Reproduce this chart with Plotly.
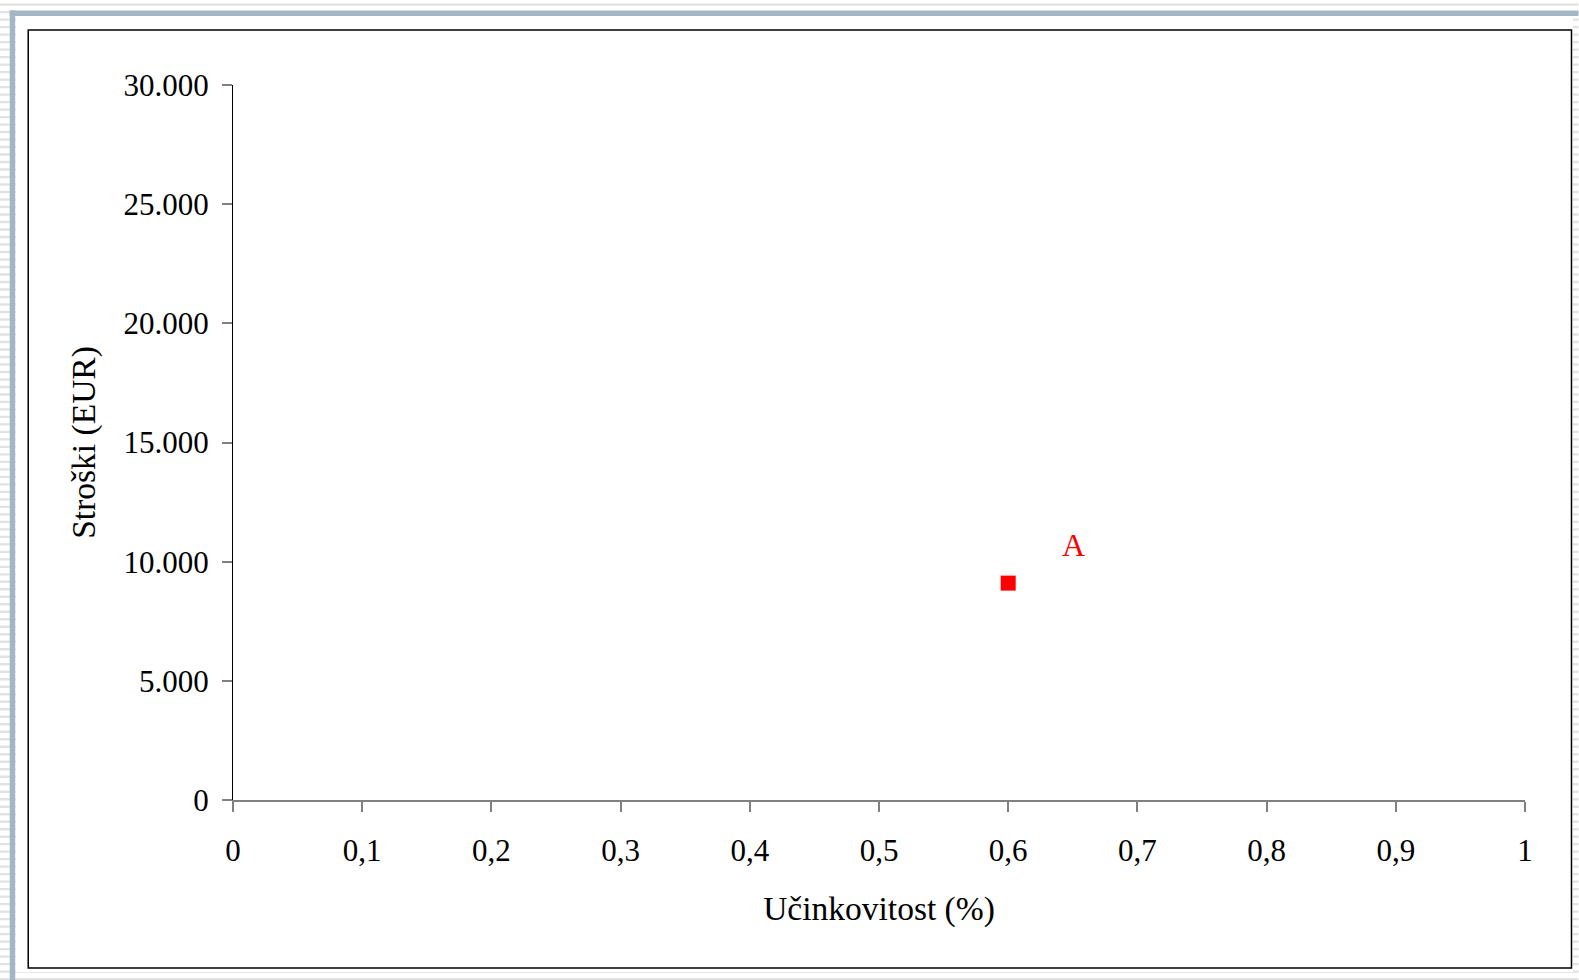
import plotly.graph_objects as go

# Data
options = ["A"]
effectiveness = [0.6]
costs = [9100]
label_x = [0.6505]
label_y = [10580]

x_ticks = [0, 0.1, 0.2, 0.3, 0.4, 0.5, 0.6, 0.7, 0.8, 0.9, 1]
x_ticktext = ["0", "0,1", "0,2", "0,3", "0,4", "0,5", "0,6", "0,7", "0,8", "0,9", "1"]
y_ticks = [0, 5000, 10000, 15000, 20000, 25000, 30000]
y_ticktext = ["0", "5.000", "10.000", "15.000", "20.000", "25.000", "30.000"]

W, H = 1579, 980
L, R, T, B = 233.3, 53.5, 84.6, 180.0
pw, ph = W - L - R, H - T - B

def px(x):
    return (x - L) / pw

def py(y):
    return 1 - (y - T) / ph

FONT = "Liberation Serif, Times New Roman, serif"

fig = go.Figure()
fig.add_trace(go.Scatter(
    x=effectiveness, y=costs, mode="markers",
    marker=dict(symbol="square", size=15, color="#ff0000"),
    showlegend=False, hoverinfo="x+y",
))
fig.add_trace(go.Scatter(
    x=label_x, y=label_y, mode="text", text=options,
    textfont=dict(family=FONT, size=32, color="#ff0000"),
    showlegend=False, hoverinfo="skip",
))

shapes = []
# striped background
y = 4.2
while y < H:
    shapes.append(dict(type="rect", xref="paper", yref="paper", layer="below",
                       x0=px(0), x1=px(W), y0=py(y - 1.2), y1=py(y + 1.2),
                       fillcolor="#e2e2e2", line=dict(width=0)))
    y += 7.5
# blue-grey frame bars
shapes.append(dict(type="rect", xref="paper", yref="paper", layer="below",
                   x0=px(10), x1=px(15.5), y0=py(10), y1=py(H),
                   fillcolor="#a4b6c6", line=dict(width=0)))
shapes.append(dict(type="rect", xref="paper", yref="paper", layer="below",
                   x0=px(10), x1=px(W), y0=py(10), y1=py(15.5),
                   fillcolor="#a4b6c6", line=dict(width=0)))
# white panel
shapes.append(dict(type="rect", xref="paper", yref="paper", layer="below",
                   x0=px(16), x1=px(1573.5), y0=py(16), y1=py(972),
                   fillcolor="#ffffff", line=dict(width=0)))
# black chart border
shapes.append(dict(type="rect", xref="paper", yref="paper", layer="below",
                   x0=px(28.5), x1=px(1572), y0=py(29.5), y1=py(968),
                   fillcolor="rgba(0,0,0,0)", line=dict(color="#000000", width=1.5)))

fig.update_layout(
    width=W, height=H,
    margin=dict(l=L, r=R, t=T, b=B, pad=0),
    paper_bgcolor="#ffffff",
    plot_bgcolor="rgba(0,0,0,0)",
    shapes=shapes,
    font=dict(family=FONT, size=31, color="#000000"),
    xaxis=dict(
        range=[0, 1], tickvals=x_ticks, ticktext=x_ticktext,
        showgrid=False, zeroline=False,
        showline=True, linecolor="#808080", linewidth=1.5,
        ticks="outside", ticklen=10, tickcolor="#808080", tickwidth=1.5,
        ticklabelstandoff=12,
        tickfont=dict(family=FONT, size=31, color="#000000"),
        title=dict(text="Učinkovitost (%)", standoff=30,
                   font=dict(family=FONT, size=33.5, color="#000000")),
    ),
    yaxis=dict(
        range=[0, 30000], tickvals=y_ticks, ticktext=y_ticktext,
        showgrid=False, zeroline=False,
        showline=True, linecolor="#000000", linewidth=1.2,
        ticks="outside", ticklen=10, tickcolor="#808080", tickwidth=1.5,
        ticklabelstandoff=7,
        tickfont=dict(family=FONT, size=31, color="#000000"),
        title=dict(text="Stroški (EUR)", standoff=17,
                   font=dict(family=FONT, size=33.5, color="#000000")),
    ),
)

fig.write_html("out.html")
